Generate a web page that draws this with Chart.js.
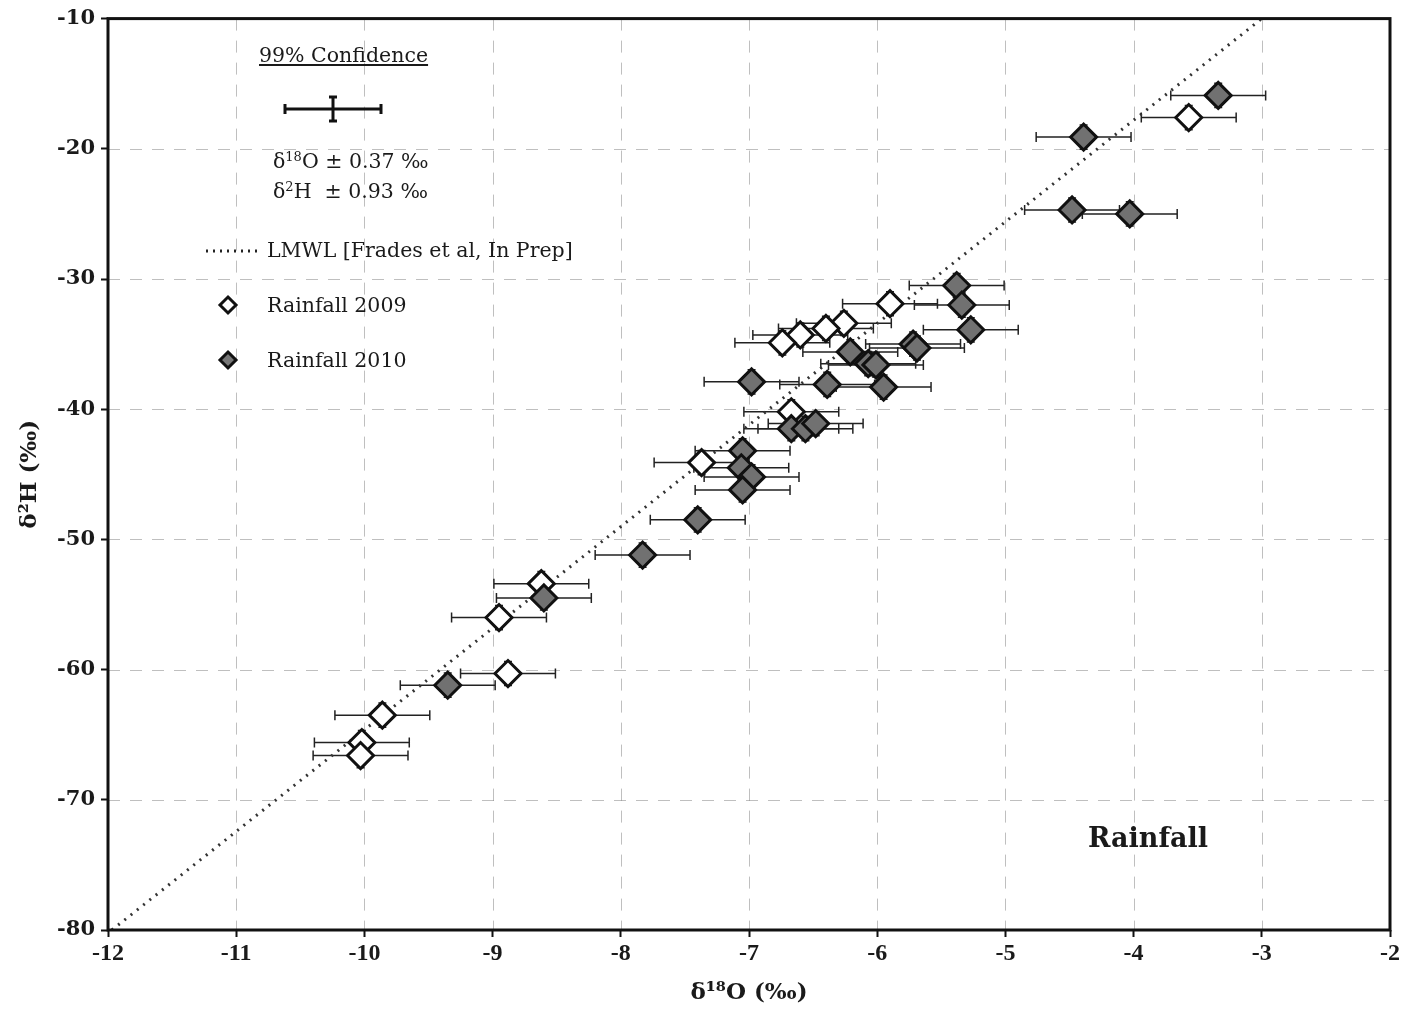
<!DOCTYPE html>
<html>
<head>
<meta charset="utf-8">
<script src="https://cdn.jsdelivr.net/npm/chart.js@4.4.1/dist/chart.umd.min.js"></script>
<style>
  html, body { margin: 0; padding: 0; background: #fff; }
  #wrap { position: relative; width: 1406px; height: 1011px; }
  #wrap canvas { position: absolute; left: 0; top: 0; }
  .lg { position: absolute; font-family: 'DejaVu Serif', serif; font-size: 20.5px; color: #1a1a1a; white-space: pre; line-height: 1; }
  .lg sup { font-size: 13px; vertical-align: 7px; }
  #overlay { position: absolute; left: 0; top: 0; pointer-events: none; }
</style>
</head>
<body>
<div id="wrap">
  <canvas id="isoChart" width="1406" height="1011"></canvas>

  <!-- legend, drawn over the plot area -->
  <svg id="overlay" width="1406" height="1011">
    <!-- 99% confidence error bar -->
    <g stroke="#111" stroke-width="3">
      <line x1="285" y1="109" x2="381" y2="109"/>
      <line x1="285" y1="104" x2="285" y2="114"/>
      <line x1="381" y1="104" x2="381" y2="114"/>
      <line x1="333" y1="97" x2="333" y2="121"/>
      <line x1="329" y1="97" x2="337" y2="97"/>
      <line x1="329" y1="121" x2="337" y2="121"/>
    </g>
    <line x1="206" y1="251" x2="258" y2="251" stroke="#222" stroke-width="3" stroke-dasharray="2 5"/>
    <polygon points="228,297 236,305 228,313 220,305" fill="#fff" stroke="#111" stroke-width="3"/>
    <polygon points="228,352 236,360 228,368 220,360" fill="#777" stroke="#111" stroke-width="3"/>
  </svg>
  <div class="lg" style="left:259px; top:45px; text-decoration: underline;">99% Confidence</div>
  <div class="lg" style="left:273px; top:150px;">δ<sup>18</sup>O ± 0.37 ‰</div>
  <div class="lg" style="left:273px; top:180px;">δ<sup>2</sup>H  ± 0.93 ‰</div>
  <div class="lg" style="left:267px; top:240px;">LMWL [Frades et al, In Prep]</div>
  <div class="lg" style="left:267px; top:295px;">Rainfall 2009</div>
  <div class="lg" style="left:267px; top:350px;">Rainfall 2010</div>
  <div class="lg" style="left:1088px; top:824px; font-size: 27px; font-weight: bold;">Rainfall</div>
</div>

<script>
// --- data (δ18O, δ2H in ‰) ---
const rain2009_O18 = [-3.57, -5.90, -6.26, -6.40, -6.60, -6.74, -6.67, -7.37, -8.62, -8.95, -8.88, -9.86, -10.02, -10.03];
const rain2009_H2  = [-17.6, -31.9, -33.4, -33.8, -34.3, -34.9, -40.2, -44.1, -53.4, -56.0, -60.3, -63.5, -65.6, -66.6];

const rain2010_O18 = [-3.34, -4.39, -4.48, -4.03, -5.38, -5.34, -5.27, -5.72, -5.69, -6.21, -6.07, -6.01, -6.98, -6.39, -5.95,
                      -6.67, -6.56, -6.48, -7.05, -7.06, -6.98, -7.05, -7.40, -7.83, -8.60, -9.35];
const rain2010_H2  = [-15.9, -19.1, -24.7, -25.0, -30.5, -32.0, -33.9, -35.0, -35.3, -35.6, -36.5, -36.6, -37.9, -38.1, -38.3,
                      -41.5, -41.5, -41.1, -43.2, -44.5, -45.2, -46.2, -48.5, -51.2, -54.5, -61.2];

// LMWL end points
const lmwl_O18 = [-11.97, -3.0];
const lmwl_H2  = [-80, -10];

// 99% confidence (error bars)
const ERR_O18 = 0.37;
const ERR_H2 = 0.93;

const xTicks = [-12, -11, -10, -9, -8, -7, -6, -5, -4, -3, -2];
const yTicks = [-80, -70, -60, -50, -40, -30, -20, -10];

const toPoints = (xs, ys) => xs.map((x, i) => ({ x: x, y: ys[i] }));

// faint dashed grid lines drawn through the scales
const gridPlugin = {
  id: 'dashGrid',
  beforeDatasetsDraw(chart) {
    const { ctx, chartArea: a, scales: { x, y } } = chart;
    ctx.save();
    ctx.strokeStyle = 'rgba(0,0,0,0.25)';
    ctx.lineWidth = 1;
    ctx.setLineDash([12, 10]);
    xTicks.forEach(v => {
      const px = Math.round(x.getPixelForValue(v)) + 0.5;
      ctx.beginPath(); ctx.moveTo(px, a.top); ctx.lineTo(px, a.bottom); ctx.stroke();
    });
    yTicks.forEach(v => {
      const py = Math.round(y.getPixelForValue(v)) + 0.5;
      ctx.beginPath(); ctx.moveTo(a.left, py); ctx.lineTo(a.right, py); ctx.stroke();
    });
    ctx.restore();
  }
};

// error bars for the two rainfall series
const errorBarPlugin = {
  id: 'errorBars',
  beforeDatasetsDraw(chart) {
    const { ctx, scales: { x, y } } = chart;
    ctx.save();
    ctx.strokeStyle = '#222';
    ctx.lineWidth = 1.5;
    ctx.setLineDash([]);
    chart.data.datasets.forEach(ds => {
      if (!ds.errorBars) return;
      ds.data.forEach(p => {
        const cx = x.getPixelForValue(p.x), cy = y.getPixelForValue(p.y);
        const x0 = x.getPixelForValue(p.x - ERR_O18), x1 = x.getPixelForValue(p.x + ERR_O18);
        const y0 = y.getPixelForValue(p.y - ERR_H2), y1 = y.getPixelForValue(p.y + ERR_H2);
        ctx.beginPath();
        ctx.moveTo(x0, cy); ctx.lineTo(x1, cy);
        ctx.moveTo(x0, cy - 5); ctx.lineTo(x0, cy + 5);
        ctx.moveTo(x1, cy - 5); ctx.lineTo(x1, cy + 5);
        ctx.moveTo(cx, y0); ctx.lineTo(cx, y1);
        ctx.moveTo(cx - 4, y0); ctx.lineTo(cx + 4, y0);
        ctx.moveTo(cx - 4, y1); ctx.lineTo(cx + 4, y1);
        ctx.stroke();
      });
    });
    ctx.restore();
  }
};

// heavy frame round the plot area
const framePlugin = {
  id: 'frame',
  afterDraw(chart) {
    const { ctx, chartArea: a } = chart;
    ctx.save();
    ctx.strokeStyle = '#111';
    ctx.lineWidth = 3;
    ctx.strokeRect(a.left, a.top, a.right - a.left, a.bottom - a.top);
    ctx.restore();
  }
};

new Chart(document.getElementById('isoChart'), {
  type: 'scatter',
  data: {
    datasets: [
      {
        label: 'Rainfall 2010',
        data: toPoints(rain2010_O18, rain2010_H2),
        pointStyle: 'rectRot',
        pointRadius: 13,
        backgroundColor: '#717171',
        borderColor: '#111',
        borderWidth: 3,
        errorBars: true,
        order: 0
      },
      {
        label: 'Rainfall 2009',
        data: toPoints(rain2009_O18, rain2009_H2),
        pointStyle: 'rectRot',
        pointRadius: 13,
        backgroundColor: '#fff',
        borderColor: '#111',
        borderWidth: 3,
        errorBars: true,
        order: 1
      },
      {
        type: 'line',
        label: 'LMWL [Frades et al, In Prep]',
        data: toPoints(lmwl_O18, lmwl_H2),
        borderColor: '#333',
        borderWidth: 3,
        borderDash: [2, 6],
        pointRadius: 0,
        fill: false,
        order: 2
      }
    ]
  },
  options: {
    responsive: false,
    animation: false,
    devicePixelRatio: 1,
    layout: { padding: { left: 0, right: 12, top: 18, bottom: 0 } },
    plugins: {
      legend: { display: false },
      tooltip: { enabled: false }
    },
    scales: {
      x: {
        type: 'linear',
        min: -12,
        max: -2,
        afterFit: s => { s.height = 81; },
        afterBuildTicks: s => { s.ticks = xTicks.map(v => ({ value: v })); },
        grid: { drawOnChartArea: false, drawTicks: true, tickLength: 7, tickColor: '#111', tickWidth: 2 },
        border: { display: false },
        ticks: {
          padding: 2,
          color: '#1a1a1a',
          font: { family: 'Liberation Serif', size: 24, weight: 'bold' }
        },
        title: {
          display: true,
          text: 'δ¹⁸O (‰)',
          color: '#1a1a1a',
          padding: { top: 0, bottom: 4 },
          font: { family: 'DejaVu Serif', size: 23, weight: 'bold' }
        }
      },
      y: {
        type: 'linear',
        min: -80,
        max: -10,
        afterFit: s => { s.width = 108; },
        afterBuildTicks: s => { s.ticks = yTicks.map(v => ({ value: v })); },
        grid: { drawOnChartArea: false, drawTicks: true, tickLength: 7, tickColor: '#111', tickWidth: 2 },
        border: { display: false },
        ticks: {
          padding: 6,
          color: '#1a1a1a',
          font: { family: 'DejaVu Serif', size: 21, weight: 'bold' }
        },
        title: {
          display: true,
          text: 'δ²H (‰)',
          color: '#1a1a1a',
          padding: { top: 16, bottom: 0 },
          font: { family: 'DejaVu Serif', size: 23, weight: 'bold' }
        }
      }
    }
  },
  plugins: [gridPlugin, errorBarPlugin, framePlugin]
});
</script>
</body>
</html>
